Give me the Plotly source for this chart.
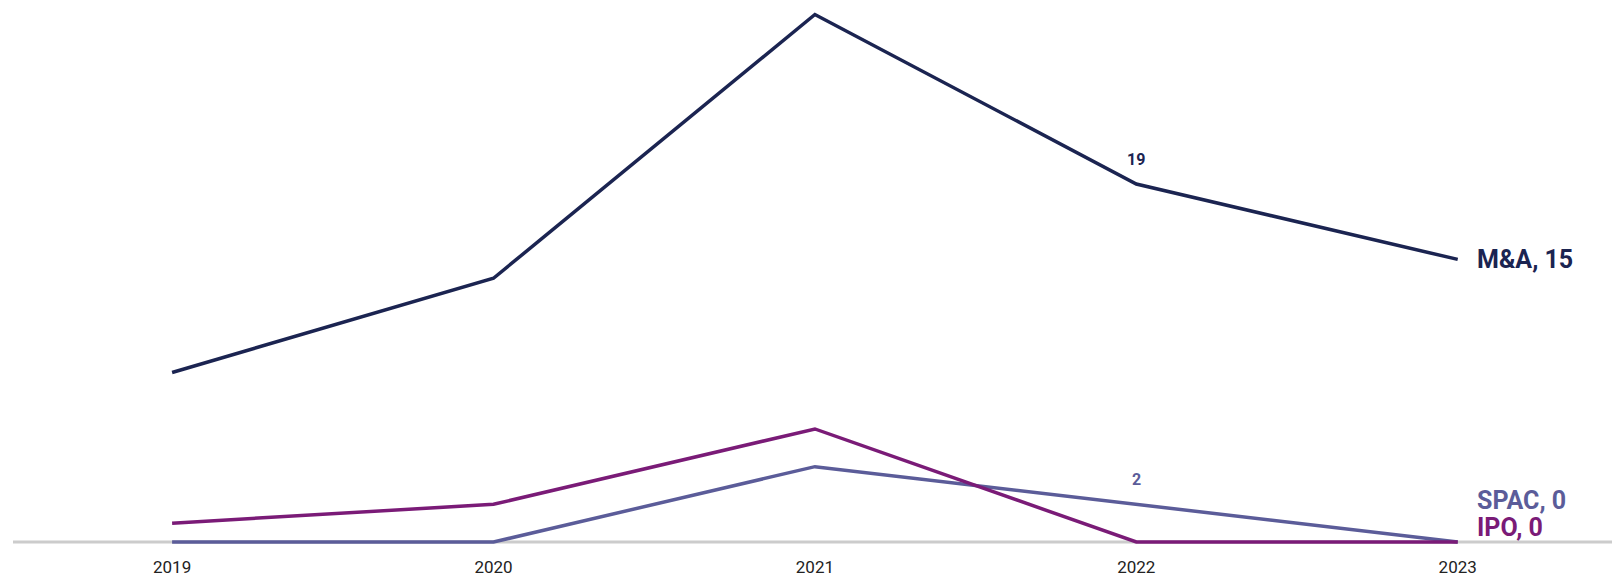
import plotly.graph_objects as go

years = [2019, 2020, 2021, 2022, 2023]
ma = [9, 14, 28, 19, 15]
spac = [0, 0, 4, 2, 0]
ipo = [1, 2, 6, 0, 0]

C_MA = "#1b2451"
C_SPAC = "#5b5c99"
C_IPO = "#7a1b77"

fig = go.Figure()
fig.add_trace(go.Scatter(x=years, y=ma, mode="lines", line=dict(color=C_MA, width=3.5), name="M&A"))
fig.add_trace(go.Scatter(x=years, y=spac, mode="lines", line=dict(color=C_SPAC, width=3.5), name="SPAC"))
fig.add_trace(go.Scatter(x=years, y=ipo, mode="lines", line=dict(color=C_IPO, width=3.5), name="IPO"))

# baseline axis line
fig.add_shape(type="line", xref="paper", yref="y", x0=0, x1=1, y0=0, y1=0,
              line=dict(color="#cccccc", width=3), layer="below")

font_family = "Roboto"
# end labels
fig.add_annotation(x=years[-1], y=ma[-1], text="<b>M&A, %d</b>" % ma[-1], showarrow=False,
                   xanchor="left", yanchor="middle", xshift=17,
                   font=dict(family=font_family, size=25, color=C_MA))
fig.add_annotation(x=years[-1], y=spac[-1], text="<b>SPAC, %d</b>" % spac[-1], showarrow=False,
                   xanchor="left", yanchor="middle", xshift=17, yshift=42,
                   font=dict(family=font_family, size=25, color=C_SPAC))
fig.add_annotation(x=years[-1], y=ipo[-1], text="<b>IPO, %d</b>" % ipo[-1], showarrow=False,
                   xanchor="left", yanchor="middle", xshift=17, yshift=15,
                   font=dict(family=font_family, size=25, color=C_IPO))
# data labels
fig.add_annotation(x=years[3], y=ma[3], text="<b>%d</b>" % ma[3], showarrow=False,
                   yanchor="middle", yshift=25,
                   font=dict(family=font_family, size=16, color=C_MA))
fig.add_annotation(x=years[3], y=spac[3], text="<b>%d</b>" % spac[3], showarrow=False,
                   yanchor="middle", yshift=25,
                   font=dict(family=font_family, size=16, color=C_SPAC))

fig.update_layout(
    width=1612, height=579,
    margin=dict(l=13, r=0, t=0, b=35),
    plot_bgcolor="white", paper_bgcolor="white",
    showlegend=False,
    font=dict(family=font_family, color="#222222"),
    xaxis=dict(range=[2018.505, 2023.48], tickmode="array", tickvals=years,
               ticktext=[str(y) for y in years], showgrid=False, zeroline=False,
               showline=False, ticks="outside", ticklen=8, tickcolor="rgba(0,0,0,0)",
               tickfont=dict(size=17, color="#222222")),
    yaxis=dict(range=[-0.106, 28.77], visible=False, showgrid=False, zeroline=False),
)

fig.write_html("out.html", config={"displayModeBar": False},
               post_script="document.body.style.margin='0';")
